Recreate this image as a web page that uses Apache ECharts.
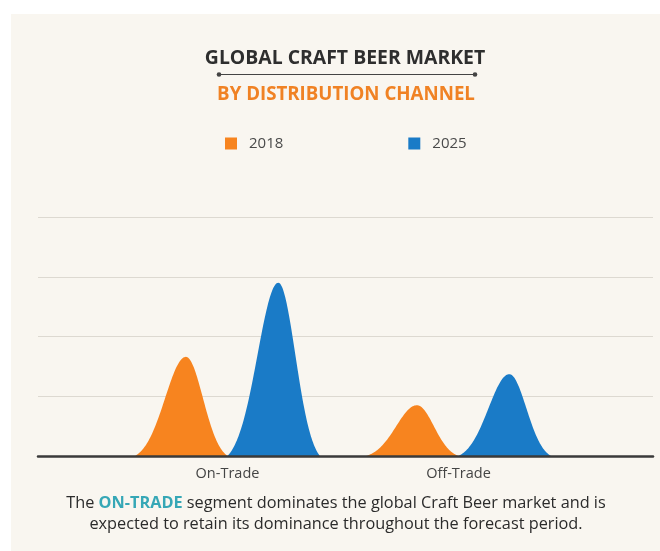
<!DOCTYPE html>
<html><head><meta charset="utf-8">
<script src="https://cdn.jsdelivr.net/npm/echarts@6/dist/echarts.min.js"></script>
<style>html,body{margin:0;padding:0;background:#fff}#c{width:660px;height:551px}</style>
</head><body><div id="c"></div>
<script>
const categories = ['On-Trade', 'Off-Trade'];
const years = ['2018', '2025'];
const values2018 = [1.66, 0.85];
const values2025 = [2.90, 1.37];
const yMin = 0, yMax = 4, yStep = 1;
const colors = ['#F7841F', '#1A7BC7'];

function bellRender(offsetSign) {
  return function (params, api) {
    const i = api.value(0), v = api.value(1);
    const band = api.size([1, 0])[0];
    const hw = 0.2 * band;
    const cx = api.coord([i, 0])[0] + offsetSign * hw;
    const peakX = cx + 0.1 * hw;
    const left = cx - hw, right = cx + hw;
    const K = 3, e = Math.exp(-K);
    const shape = t => (Math.exp(-K * t * t) - e) / (1 - e);
    const pts = [];
    const N = 60;
    for (let k = 0; k <= N; k++) {
      const x = left + (peakX - left) * k / N;
      const t = (x - peakX) / (peakX - left);
      pts.push([x, api.coord([i, v * shape(t)])[1]]);
    }
    for (let k = 1; k <= N; k++) {
      const x = peakX + (right - peakX) * k / N;
      const t = (x - peakX) / (right - peakX);
      pts.push([x, api.coord([i, v * shape(t)])[1]]);
    }
    return { type: 'polygon', shape: { points: pts }, style: { fill: api.visual('color') } };
  };
}

const chart = echarts.init(document.getElementById('c'));
const FONT = '"Open Sans", sans-serif';
chart.setOption({
  backgroundColor: '#ffffff',
  animation: false,
  legend: {
    data: years, left: 220, top: 131, icon: 'rect', itemWidth: 12, itemHeight: 12, itemGap: 125,
    textStyle: { fontSize: 15, color: '#4a4a4a', fontFamily: FONT, padding: [0, 0, 0, 7] }
  },
  grid: [
    { left: 38, right: 7, top: 217, bottom: 95 },
    { left: 112, right: 86, top: 217, bottom: 95 }
  ],
  xAxis: [
    { type: 'category', gridIndex: 0, data: categories, z: 5,
      axisLine: { lineStyle: { color: '#3a3a3a', width: 2.5 } },
      axisTick: { show: false }, axisLabel: { show: false }, splitLine: { show: false } },
    { type: 'category', gridIndex: 1, data: categories,
      axisLine: { show: false }, axisTick: { show: false },
      axisLabel: { fontSize: 14.5, color: '#444', margin: 10, fontFamily: FONT } }
  ],
  yAxis: [
    { type: 'value', gridIndex: 0, min: yMin, max: yMax, interval: yStep,
      axisLabel: { show: false }, axisLine: { show: false }, axisTick: { show: false },
      splitLine: { lineStyle: { color: '#DDD9D1', width: 1.2 } } },
    { type: 'value', gridIndex: 1, min: yMin, max: yMax, interval: yStep, show: false,
      splitLine: { show: false } }
  ],
  series: [
    { name: years[0], type: 'custom', xAxisIndex: 1, yAxisIndex: 1,
      itemStyle: { color: colors[0] }, renderItem: bellRender(-1),
      encode: { x: 0, y: 1 },
      data: values2018.map((v, i) => [i, v]) },
    { name: years[1], type: 'custom', xAxisIndex: 1, yAxisIndex: 1,
      itemStyle: { color: colors[1] }, renderItem: bellRender(1),
      encode: { x: 0, y: 1 },
      data: values2025.map((v, i) => [i, v]) }
  ],
  graphic: [
    { type: 'rect', z: -10, silent: true, shape: { x: 11, y: 14, width: 660, height: 551 }, style: { fill: '#F9F6F0' } },
    { type: 'text', x: 345, y: 58, style: { text: 'GLOBAL CRAFT BEER MARKET', align: 'center', verticalAlign: 'middle',
      font: 'bold 19.4px "Open Sans", sans-serif', fill: '#2E2E2E' } },
    { type: 'line', shape: { x1: 219, y1: 74.5, x2: 475, y2: 74.5 }, style: { stroke: '#444', lineWidth: 1 } },
    { type: 'circle', shape: { cx: 219, cy: 74.5, r: 2.3 }, style: { fill: '#444' } },
    { type: 'circle', shape: { cx: 475, cy: 74.5, r: 2.3 }, style: { fill: '#444' } },
    { type: 'text', x: 346, y: 95, style: { text: 'BY DISTRIBUTION CHANNEL', align: 'center', verticalAlign: 'middle',
      font: 'bold 18.7px "Open Sans", sans-serif', fill: '#F08224' } },
    { type: 'text', x: 336, y: 503, style: {
      text: 'The {b|ON-TRADE} segment dominates the global Craft Beer market and is',
      align: 'center', verticalAlign: 'middle', font: '16.3px "Open Sans", sans-serif', fill: '#2B2B2B',
      rich: { b: { font: 'bold 16.3px "Open Sans", sans-serif', fill: '#36A7B6' } } } },
    { type: 'text', x: 336, y: 524, style: {
      text: 'expected to retain its dominance throughout the forecast period.',
      align: 'center', verticalAlign: 'middle', font: '16.3px "Open Sans", sans-serif', fill: '#2B2B2B' } }
  ]
});
</script>
</body></html>
